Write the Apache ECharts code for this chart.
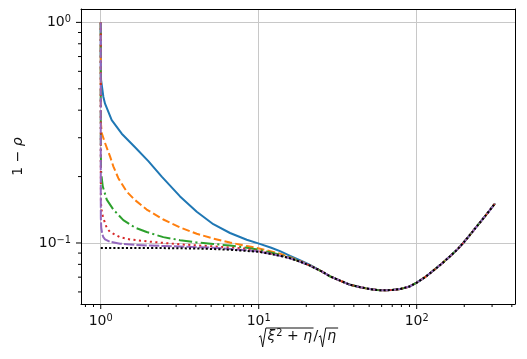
<!DOCTYPE html>
<html>
<head>
<meta charset="utf-8">
<script src="https://cdn.jsdelivr.net/npm/echarts@6/dist/echarts.min.js"></script>
<style>html,body{margin:0;padding:0;background:#fff}#c{width:527px;height:359px}</style>
</head>
<body>
<div id="c"></div>
<script>
// ---- data ----
const tailX = [25, 28.3, 33, 37.8, 44, 50.6, 56, 61.5, 70, 78.4, 90, 100, 113, 127, 145, 162, 180, 197, 218, 240, 275, 313];
const tailY = [0.0744, 0.0706, 0.0673, 0.0647, 0.0630, 0.0618, 0.0612, 0.0610, 0.0612, 0.0618, 0.0635, 0.0661, 0.0700, 0.0748, 0.0809, 0.0869, 0.0931, 0.100, 0.1091, 0.1189, 0.134, 0.151];

const blueX = [1, 1.0003, 1.001, 1.0044, 1.0386, 1.0646, 1.1738, 1.358, 1.6484, 2.0012, 2.4324, 3.177, 4.0522, 5.1592, 6.5814, 8.3971, 10.04, 12, 13.64, 15.8, 18.5, 21.1];
const blueY = [1.0, 0.80, 0.65, 0.55, 0.4604, 0.428, 0.3602, 0.313, 0.2718, 0.2349, 0.1998, 0.1626, 0.1386, 0.1217, 0.111, 0.1035, 0.0993, 0.0952, 0.0918, 0.0874, 0.0832, 0.0795];

const orangeX = [1, 1.0003, 1.001, 1.004, 1.0147, 1.0647, 1.1451, 1.2014, 1.2923, 1.4607, 1.6484, 1.9532, 2.4895, 3.177, 4.0522, 5.1592, 6.5814, 8.3971, 10.04, 13.64, 15.8, 18.5, 21.1];
const orangeY = [1.0, 0.62, 0.44, 0.345, 0.315, 0.284, 0.2468, 0.2226, 0.1967, 0.171, 0.1565, 0.1418, 0.1278, 0.1177, 0.1101, 0.1047, 0.1005, 0.0969, 0.0945, 0.0895, 0.0862, 0.0825, 0.0791];

const greenX = [1, 1.0003, 1.001, 1.004, 1.0147, 1.0296, 1.0914, 1.2014, 1.3898, 1.6484, 1.9532, 2.4895, 3.177, 4.0522, 5.1592, 6.5814, 8.3971, 10.04, 13.64, 15.8, 18.5, 21.1];
const greenY = [1.0, 0.5, 0.3, 0.215, 0.1976, 0.1808, 0.1572, 0.1418, 0.127, 0.1174, 0.1121, 0.1063, 0.103, 0.1006, 0.099, 0.0973, 0.0952, 0.0932, 0.0885, 0.0857, 0.082, 0.079];

const redX = [1, 1.0002, 1.0008, 1.003, 1.0117, 1.0296, 1.0569, 1.0914, 1.1451, 1.3246, 1.5329, 1.9532, 2.4895, 3.177, 5.1592, 8.3971, 10.04, 13.64, 15.8, 18.5, 21.1];
const redY = [1.0, 0.45, 0.22, 0.152, 0.1416, 0.1332, 0.1249, 0.1172, 0.1121, 0.1062, 0.1038, 0.1017, 0.1001, 0.0986, 0.0965, 0.0943, 0.0918, 0.0878, 0.0854, 0.082, 0.079];

const purpleX = [1, 1.0001, 1.0005, 1.0015, 1.0073, 1.0221, 1.0386, 1.0646, 1.1451, 1.3246, 1.6484, 2.4895, 5.1592, 8.3971, 10.04, 13.64, 15.8, 18.5, 21.1];
const purpleY = [1.0, 0.4, 0.18, 0.13, 0.1174, 0.110, 0.1062, 0.1038, 0.1013, 0.0993, 0.098, 0.0969, 0.0952, 0.0928, 0.0914, 0.0876, 0.0853, 0.082, 0.079];

const blackX = [1, 1.5, 2, 3, 4, 5, 6, 7, 8, 10, 11.8, 13.6, 15.8, 18.5, 21.1];
const blackY = [0.0950, 0.0950, 0.0949, 0.0947, 0.0944, 0.0940, 0.0935, 0.0929, 0.0923, 0.0912, 0.0893, 0.0875, 0.0852, 0.082, 0.079];

const xMajorTicks = [1, 10, 100];
const xMinorTicks = [0.8, 0.9, 2, 3, 4, 5, 6, 7, 8, 9, 20, 30, 40, 50, 60, 70, 80, 90, 200, 300, 400];
const yMajorTicks = [0.1, 1];
const yMinorTicks = [0.06, 0.07, 0.08, 0.09, 0.2, 0.3, 0.4, 0.5, 0.6, 0.7, 0.8, 0.9];

const X_MIN = 0.75, X_MAX = 419, Y_MIN = 0.0529, Y_MAX = 1.15;

// ---- build ----
function pairs(xs, ys) { return xs.map((x, i) => [x, ys[i]]); }
function withTail(xs, ys) { return pairs(xs, ys).concat(pairs(tailX, tailY)); }

function logLabel(v) {
  const l = Math.log10(v), e = Math.round(l);
  if (Math.abs(l - e) > 1e-6) return '';
  return '{b|10}{s|' + (e < 0 ? '\u2212' + (-e) : e) + '}';
}

const FONT = 'DejaVu Sans';
const labelRich = {
  b: { fontFamily: FONT, fontSize: 14, color: '#111' },
  s: { fontFamily: FONT, fontSize: 9.8, color: '#111', verticalAlign: 'top', padding: [0, 0, 6, 0] }
};

function tickSeries(vals, isX, len) {
  return {
    type: 'custom', silent: true, clip: false, z: 10,
    data: vals.map(v => isX ? [v, Y_MIN] : [X_MIN, v]),
    encode: { x: 0, y: 1 },
    renderItem: function (params, api) {
      const p = api.coord([api.value(0), api.value(1)]);
      return {
        type: 'line',
        shape: isX ? { x1: p[0], y1: p[1], x2: p[0], y2: p[1] + len }
                   : { x1: p[0], y1: p[1], x2: p[0] - len, y2: p[1] },
        style: { stroke: '#000', lineWidth: 1 }
      };
    }
  };
}

function line(data, color, type, z) {
  return {
    type: 'line', data: data, showSymbol: false, symbol: 'none', z: z,
    lineStyle: { color: color, width: 2, type: type, cap: 'butt', join: 'round' },
    emphasis: { disabled: true }, animation: false
  };
}

// ---- x axis title: sqrt(xi^2 + eta)/sqrt(eta) drawn as text pieces + radical strokes ----
function buildXTitle() {
  const ctx = document.createElement('canvas').getContext('2d');
  const fs = 14, fsS = 9.8;
  const fN = fs + 'px "' + FONT + '"', fI = 'italic ' + fs + 'px "' + FONT + '"', fS = fsS + 'px "' + FONT + '"';
  const w = (t, f) => { ctx.font = f; return ctx.measureText(t).width; };
  const base = 341, top = 328, rw = 7;
  const parts = [
    { rad: true, post: 1.5 },
    { t: '\u03BE', f: fI, under: 1, post: 1 },
    { t: '2', f: fS, sup: true, under: 1, post: 4.5 },
    { t: '+', f: fN, under: 1, post: 4.5 },
    { t: '\u03B7', f: fI, under: 1, post: 1.5 },
    { t: '/', f: fN, post: 0.5 },
    { rad: true, post: 1.5 },
    { t: '\u03B7', f: fI, under: 2, post: 2 }
  ];
  let total = 0;
  parts.forEach(p => { p.w = (p.rad ? rw : w(p.t, p.f)); total += p.w + (p.post || 0); });
  let x = 298.5 - total / 2;
  const els = [];
  const spans = {};
  parts.forEach(p => {
    if (p.rad) {
      els.push({ type: 'polyline', silent: true, shape: { points: [[x, base - 4], [x + 1.8, base - 5.2], [x + 3.8, base + 6], [x + rw, top]] },
        style: { stroke: '#111', lineWidth: 1, fill: null } });
    } else {
      const fsz = p.sup ? fsS : fs;
      els.push({ type: 'text', silent: true, x: x, y: (p.sup ? base - 4.3 : base) - 0.346 * fsz,
        style: { text: p.t, font: p.f, fill: '#111', verticalAlign: 'middle', align: 'left' } });
    }
    if (p.under) {
      const s = spans[p.under] || (spans[p.under] = [x - 1.5, x]);
      s[1] = x + p.w + (p.post || 0);
    }
    x += p.w + (p.post || 0);
  });
  [1, 2].forEach(k => {
    const s = spans[k];
    if (s) els.push({ type: 'line', silent: true, shape: { x1: s[0], y1: top, x2: s[1], y2: top }, style: { stroke: '#111', lineWidth: 1 } });
  });
  return els;
}

const option = {
  animation: false,
  grid: { left: 81, right: 12, top: 9, bottom: 55, show: false },
  xAxis: [{
    type: 'log', min: X_MIN, max: X_MAX, logBase: 10,
    axisLine: { show: true, onZero: false, lineStyle: { color: '#000', width: 1 } },
    axisTick: { show: false },
    axisLabel: { formatter: logLabel, rich: labelRich, margin: 9, showMinLabel: false, showMaxLabel: false },
    splitLine: { show: true, showMinLine: false, showMaxLine: false, lineStyle: { color: '#c8c8c8', width: 1 } }
  }, {
    type: 'log', min: X_MIN, max: X_MAX, position: 'top',
    axisLine: { show: true, onZero: false, lineStyle: { color: '#000', width: 1 } },
    axisTick: { show: false }, axisLabel: { show: false }, splitLine: { show: false }
  }],
  yAxis: [{
    type: 'log', min: Y_MIN, max: Y_MAX, logBase: 10,
    axisLine: { show: true, onZero: false, lineStyle: { color: '#000', width: 1 } },
    axisTick: { show: false },
    axisLabel: { formatter: logLabel, rich: labelRich, margin: 10, showMinLabel: false, showMaxLabel: false },
    splitLine: { show: true, showMinLine: false, showMaxLine: false, lineStyle: { color: '#c8c8c8', width: 1 } },
    name: '{n|1 \u2212 }{v|\u03C1}',
    nameLocation: 'middle', nameGap: 56, nameRotate: 90,
    nameTextStyle: { fontFamily: FONT, fontSize: 14, color: '#111',
      rich: { n: { fontFamily: FONT, fontSize: 14, color: '#111' }, v: { fontFamily: FONT, fontSize: 14, fontStyle: 'italic', color: '#111' } } }
  }, {
    type: 'log', min: Y_MIN, max: Y_MAX, position: 'right',
    axisLine: { show: true, onZero: false, lineStyle: { color: '#000', width: 1 } },
    axisTick: { show: false }, axisLabel: { show: false }, splitLine: { show: false }
  }],
  graphic: buildXTitle(),
  series: [
    line(withTail(blueX, blueY), '#1f77b4', 'solid', 2),
    line(withTail(orangeX, orangeY), '#ff7f0e', [7.7, 3.3], 3),
    line(withTail(greenX, greenY), '#2ca02c', [13.3, 3.3, 2.1, 3.3], 4),
    line(withTail(redX, redY), '#d62728', [2.1, 3.4], 5),
    line(withTail(purpleX, purpleY), '#9467bd', [10.4, 2.1], 6),
    line(withTail(blackX, blackY), '#000000', [2.1, 2.1], 7),
    tickSeries(xMajorTicks, true, 5),
    tickSeries(xMinorTicks, true, 3),
    tickSeries(yMajorTicks, false, 5),
    tickSeries(yMinorTicks, false, 3)
  ]
};

const chart = echarts.init(document.getElementById('c'), null, { renderer: 'canvas' });
chart.setOption(option);
</script>
</body>
</html>
